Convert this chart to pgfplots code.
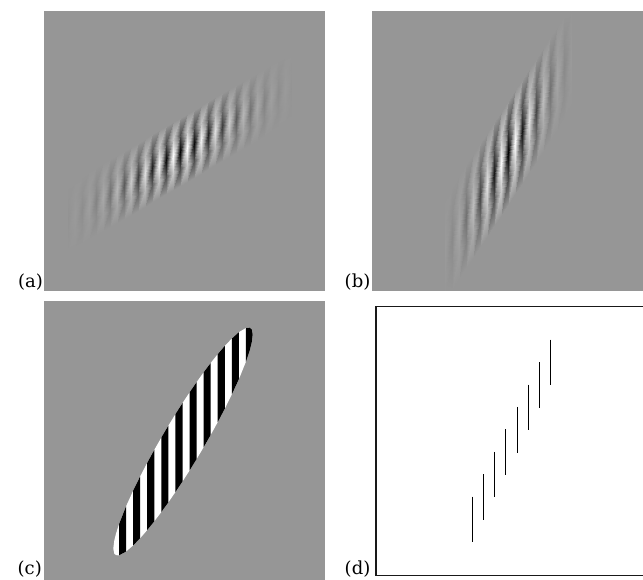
\documentclass[border=0pt]{standalone}
\usepackage{fontspec}
\usepackage{pgfplots}
\pgfplotsset{compat=1.18}
\newfontfamily\labfont{DejaVu Serif}
\definecolor{bg}{RGB}{150,150,150}
\begin{document}
\begin{tikzpicture}
\begin{axis}[
    view={0}{90},
    hide axis,
    scale only axis,
    width=643pt, height=580pt,
    xmin=0, xmax=643, ymin=0, ymax=580, zmin=-1, zmax=1,
    y dir=reverse,
    colormap={gabor}{rgb255=(0,0,0) rgb255=(150,150,150) rgb255=(255,255,255)},
    point meta min=-1, point meta max=1,
]

% grey grounds of (a), (b), (c)
\addplot3[fill=bg, draw=none] coordinates {(43.5,11,0) (324.5,11,0) (324.5,291.5,0) (43.5,291.5,0)} -- cycle;
\addplot3[fill=bg, draw=none] coordinates {(371.5,11,0) (650,11,0) (650,291.5,0) (371.5,291.5,0)} -- cycle;
\addplot3[fill=bg, draw=none] coordinates {(43.5,300.7,0) (324.5,300.7,0) (324.5,585,0) (43.5,585,0)} -- cycle;

% (a) patch, one scanline per carrier extremum: x y value
\addplot3[surf, shader=interp, point meta=z] table {
x y z
68 251.8 0
68 234.8 -0.012
68 217.8 -0.024
68 200.8 -0.012
68 183.8 0

75 247.7 0
75 230.7 0.019
75 213.7 0.038
75 196.7 0.019
75 179.7 0

82 243.6 0
82 226.6 -0.028
82 209.6 -0.058
82 192.6 -0.028
82 175.6 0

89 239.5 0
89 222.5 0.042
89 205.5 0.086
89 188.5 0.042
89 171.5 0

96 235.4 0
96 218.4 -0.060
96 201.4 -0.123
96 184.4 -0.060
96 167.4 0

103 231.3 0
103 214.3 0.084
103 197.3 0.172
103 180.3 0.084
103 163.3 0

110 227.2 0
110 210.2 -0.114
110 193.2 -0.234
110 176.2 -0.114
110 159.2 0

117 223.0 0
117 206.0 0.150
117 189.0 0.308
117 172.0 0.150
117 155.0 0

124 218.9 0
124 201.9 -0.192
124 184.9 -0.394
124 167.9 -0.192
124 150.9 0

131 214.8 0
131 197.8 0.239
131 180.8 0.490
131 163.8 0.239
131 146.8 0

138 210.7 0
138 193.7 -0.289
138 176.7 -0.593
138 159.7 -0.289
138 142.7 0

145 206.6 0
145 189.6 0.339
145 172.6 0.695
145 155.6 0.339
145 138.6 0

152 202.5 0
152 185.5 -0.387
152 168.5 -0.793
152 151.5 -0.387
152 134.5 0

159 198.3 0
159 181.3 0.428
159 164.3 0.877
159 147.3 0.428
159 130.3 0

166 194.2 0
166 177.2 -0.460
166 160.2 -0.944
166 143.2 -0.460
166 126.2 0

173 190.1 0
173 173.1 0.481
173 156.1 0.986
173 139.1 0.481
173 122.1 0

180 186.0 0
180 169.0 -0.488
180 152.0 -1
180 135.0 -0.488
180 118.0 0

187 181.9 0
187 164.9 0.481
187 147.9 0.986
187 130.9 0.481
187 113.9 0

194 177.8 0
194 160.8 -0.460
194 143.8 -0.944
194 126.8 -0.460
194 109.8 0

201 173.7 0
201 156.7 0.428
201 139.7 0.877
201 122.7 0.428
201 105.7 0

208 169.5 0
208 152.5 -0.387
208 135.5 -0.793
208 118.5 -0.387
208 101.5 0

215 165.4 0
215 148.4 0.339
215 131.4 0.695
215 114.4 0.339
215 97.4 0

222 161.3 0
222 144.3 -0.289
222 127.3 -0.593
222 110.3 -0.289
222 93.3 0

229 157.2 0
229 140.2 0.239
229 123.2 0.490
229 106.2 0.239
229 89.2 0

236 153.1 0
236 136.1 -0.192
236 119.1 -0.394
236 102.1 -0.192
236 85.1 0

243 149.0 0
243 132.0 0.150
243 115.0 0.308
243 98.0 0.150
243 81.0 0

250 144.9 0
250 127.9 -0.114
250 110.9 -0.234
250 93.9 -0.114
250 76.9 0

257 140.7 0
257 123.7 0.084
257 106.7 0.172
257 89.7 0.084
257 72.7 0

264 136.6 0
264 119.6 -0.060
264 102.6 -0.123
264 85.6 -0.060
264 68.6 0

271 132.5 0
271 115.5 0.042
271 98.5 0.086
271 81.5 0.042
271 64.5 0

278 128.4 0
278 111.4 -0.028
278 94.4 -0.058
278 77.4 -0.028
278 60.4 0

285 124.3 0
285 107.3 0.019
285 90.3 0.038
285 73.3 0.019
285 56.3 0

292 120.2 0
292 103.2 -0.012
292 86.2 -0.024
292 69.2 -0.012
292 52.2 0
};

% (b) patch
\addplot3[surf, shader=interp, point meta=z] table {
x y z
445 291.0 0.007
445 274.3 0.021
445 248.3 0.040
445 222.3 0.021
445 196.3 0

452 289.7 0
452 263.7 -0.041
452 237.7 -0.079
452 211.7 -0.041
452 185.7 0

459 279.1 0
459 253.1 0.075
459 227.1 0.143
459 201.1 0.075
459 175.1 0

466 268.5 0
466 242.5 -0.126
466 216.5 -0.240
466 190.5 -0.126
466 164.5 0

473 257.9 0
473 231.9 0.194
473 205.9 0.371
473 179.9 0.194
473 153.9 0

480 247.3 0
480 221.3 -0.277
480 195.3 -0.530
480 169.3 -0.277
480 143.3 0

487 236.8 0
487 210.8 0.366
487 184.8 0.700
487 158.8 0.366
487 132.8 0

494 226.2 0
494 200.2 -0.446
494 174.2 -0.853
494 148.2 -0.446
494 122.2 0

501 215.6 0
501 189.6 0.503
501 163.6 0.961
501 137.6 0.503
501 111.6 0

508 205.0 0
508 179.0 -0.523
508 153.0 -1
508 127.0 -0.523
508 101.0 0

515 194.4 0
515 168.4 0.503
515 142.4 0.961
515 116.4 0.503
515 90.4 0

522 183.8 0
522 157.8 -0.446
522 131.8 -0.853
522 105.8 -0.446
522 79.8 0

529 173.2 0
529 147.2 0.366
529 121.2 0.700
529 95.2 0.366
529 69.2 0

536 162.7 0
536 136.7 -0.277
536 110.7 -0.530
536 84.7 -0.277
536 58.7 0

543 152.1 0
543 126.1 0.194
543 100.1 0.371
543 74.1 0.194
543 48.1 0

550 141.5 0
550 115.5 -0.126
550 89.5 -0.240
550 63.5 -0.126
550 37.5 0

557 130.9 0
557 104.9 0.075
557 78.9 0.143
557 52.9 0.075
557 26.9 0

564 120.3 0
564 94.3 -0.041
564 68.3 -0.079
564 42.3 -0.041
564 16.3 0

571 109.7 0
571 83.7 0.021
571 57.7 0.040
571 31.7 0.021
571 11.5 0.005
};

% (c) white ellipse
\addplot3[fill=white, draw=none] coordinates {
(113.3,548.6,0) (114.3,540.4,0) (116,533.6,0) (119,524.3,0) (126,506.5,0) (133.1,490.8,0)
(140.2,476.3,0) (147.2,462.9,0) (154.3,449.9,0) (161.3,437.6,0) (168.4,425.6,0)
(175.4,414.2,0) (182.5,403.1,0) (189.5,392.5,0) (196.6,382.2,0) (203.6,372.4,0)
(210.7,363.0,0) (217.7,354.2,0) (224.8,345.9,0) (231.8,338.6,0) (238.9,332.2,0)
(245.9,328.0,0) (249.8,327.7,0) (251.7,329.4,0) (252.7,334.4,0) (251.7,342.6,0)
(249.8,350.1,0) (245.9,361.8,0) (238.9,379.1,0) (231.8,394.5,0) (224.8,408.7,0)
(217.7,422.2,0) (210.7,434.9,0) (203.6,447.3,0) (196.6,459.1,0) (189.5,470.6,0)
(182.5,481.5,0) (175.4,492.1,0) (168.4,502.3,0) (161.3,512.1,0) (154.3,521.3,0)
(147.2,530.1,0) (140.2,538.2,0) (133.1,545.5,0) (126,551.6,0) (119,555.3,0)
(116,555.2,0) (114.3,553.6,0)} -- cycle;

% (c) black stripes
\addplot3[fill=black, draw=none] coordinates {(119,524.3,0) (126,506.5,0) (126,551.6,0) (119,555.3,0)} -- cycle;
\addplot3[fill=black, draw=none] coordinates {(133.1,490.8,0) (140.2,476.3,0) (140.2,538.2,0) (133.1,545.5,0)} -- cycle;
\addplot3[fill=black, draw=none] coordinates {(147.2,462.9,0) (154.3,449.9,0) (154.3,521.3,0) (147.2,530.1,0)} -- cycle;
\addplot3[fill=black, draw=none] coordinates {(161.3,437.6,0) (168.4,425.6,0) (168.4,502.3,0) (161.3,512.1,0)} -- cycle;
\addplot3[fill=black, draw=none] coordinates {(175.4,414.2,0) (182.5,403.1,0) (182.5,481.5,0) (175.4,492.1,0)} -- cycle;
\addplot3[fill=black, draw=none] coordinates {(189.5,392.5,0) (196.6,382.2,0) (196.6,459.1,0) (189.5,470.6,0)} -- cycle;
\addplot3[fill=black, draw=none] coordinates {(203.6,372.4,0) (210.7,363.0,0) (210.7,434.9,0) (203.6,447.3,0)} -- cycle;
\addplot3[fill=black, draw=none] coordinates {(217.7,354.2,0) (224.8,345.9,0) (224.8,408.7,0) (217.7,422.2,0)} -- cycle;
\addplot3[fill=black, draw=none] coordinates {(231.8,338.6,0) (238.9,332.2,0) (238.9,379.1,0) (231.8,394.5,0)} -- cycle;
\addplot3[fill=black, draw=none] coordinates {(245.9,328.0,0) (249.8,327.7,0) (251.7,329.4,0) (252.7,334.4,0) (251.7,342.6,0) (249.8,350.1,0) (245.9,361.8,0)} -- cycle;

% (d) frame and bars
\addplot3[black!90, line width=1.4pt] coordinates {(660,306.7,0) (376,306.7,0) (376,575.5,0) (660,575.5,0)};
\addplot3[black, line width=0.9pt] coordinates {(472,496.7,0) (472,542.4,0)};
\addplot3[black, line width=0.9pt] coordinates {(483.25,474.3,0) (483.25,520.0,0)};
\addplot3[black, line width=0.9pt] coordinates {(494.5,451.8,0) (494.5,497.5,0)};
\addplot3[black, line width=0.9pt] coordinates {(505.75,429.4,0) (505.75,475.1,0)};
\addplot3[black, line width=0.9pt] coordinates {(517,407.0,0) (517,452.7,0)};
\addplot3[black, line width=0.9pt] coordinates {(528.25,384.6,0) (528.25,430.3,0)};
\addplot3[black, line width=0.9pt] coordinates {(539.5,362.1,0) (539.5,407.8,0)};
\addplot3[black, line width=0.9pt] coordinates {(550.75,339.7,0) (550.75,385.4,0)};

% panel labels
\node[anchor=base east, font=\labfont\fontsize{18}{21}\selectfont, inner sep=0pt] at (axis cs:43,288,0) {(a)};
\node[anchor=base east, font=\labfont\fontsize{18}{21}\selectfont, inner sep=0pt] at (axis cs:370.5,288,0) {(b)};
\node[anchor=base east, font=\labfont\fontsize{18}{21}\selectfont, inner sep=0pt] at (axis cs:42,575,0) {(c)};
\node[anchor=base east, font=\labfont\fontsize{18}{21}\selectfont, inner sep=0pt] at (axis cs:370.5,575,0) {(d)};

\end{axis}
\pgfresetboundingbox
\path[use as bounding box] (current axis.south west) rectangle (current axis.north east);
\end{tikzpicture}
\end{document}
